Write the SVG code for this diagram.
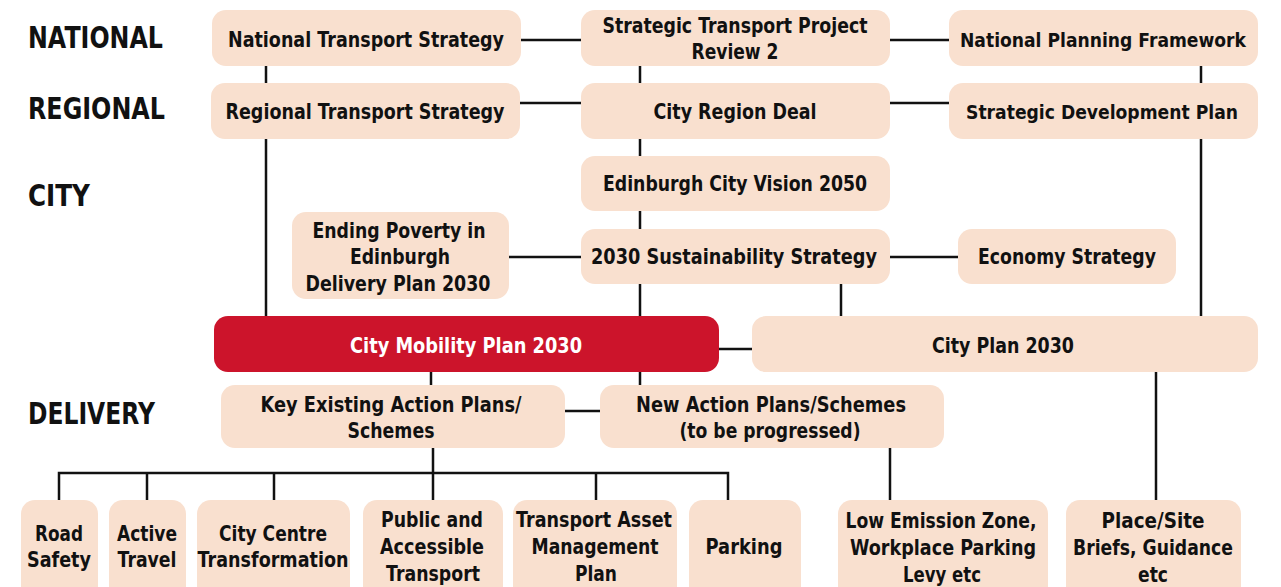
<svg xmlns="http://www.w3.org/2000/svg" width="1281" height="587" viewBox="0 0 1281 587">
  <defs>
    <style>
      .box { fill: #f9e0cf; }
      .key { fill: #cc142b; }
      .t { font-family: "DejaVu Sans", sans-serif; font-weight: bold; font-size: 21px; fill: #111; text-anchor: middle; }
      .s { font-size: 20px; }
      .xs { font-size: 19px; }
      .tw { fill: #fff; }
      .lvl { font-family: "DejaVu Sans", sans-serif; font-weight: bold; font-size: 31px; fill: #111; }
      .ln { stroke: #111; stroke-width: 2.5; fill: none; }
    </style>
  </defs>
  <rect width="1281" height="587" fill="#fff"/>

  <!-- level headings -->
  <g id="levels">
    <text class="lvl" x="28" y="48" textLength="135" lengthAdjust="spacingAndGlyphs">NATIONAL</text>
    <text class="lvl" x="28" y="119" textLength="137" lengthAdjust="spacingAndGlyphs">REGIONAL</text>
    <text class="lvl" x="28" y="206" textLength="62" lengthAdjust="spacingAndGlyphs">CITY</text>
    <text class="lvl" x="28" y="424" textLength="127" lengthAdjust="spacingAndGlyphs">DELIVERY</text>
  </g>

  <!-- connectors -->
  <g id="connectors" class="ln">
    <path d="M521 40H581M890 40H949"/>
    <path d="M520 103H581M890 103H949"/>
    <path d="M266 66V83M266 139V316"/>
    <path d="M640 66V83M640 139V156M640 211V229M640 284V316M640 372V385"/>
    <path d="M1201 66V83M1201 139V316"/>
    <path d="M509 257H581M890 257H958"/>
    <path d="M841 284V316"/>
    <path d="M719 349H752"/>
    <path d="M431 372V385"/>
    <path d="M565 411H600"/>
    <path d="M433 448V500M59 500V473H728V500M147 473V500M274 473V500M596 473V500"/>
    <path d="M890 448V500"/>
    <path d="M1156 372V500"/>
  </g>

  <g id="nts"><rect class="box" x="212" y="10" width="309" height="56" rx="14"/>
    <text class="t" x="366" y="47" textLength="276" lengthAdjust="spacingAndGlyphs">National Transport Strategy</text></g>
  <g id="stpr2"><rect class="box" x="581" y="10" width="309" height="56" rx="14"/>
    <text class="t" x="735" y="33" textLength="265" lengthAdjust="spacingAndGlyphs">Strategic Transport Project</text>
    <text class="t" x="735" y="59" textLength="87" lengthAdjust="spacingAndGlyphs">Review 2</text></g>
  <g id="npf"><rect class="box" x="949" y="10" width="309" height="56" rx="14"/>
    <text class="t xs" x="1103" y="47" textLength="286" lengthAdjust="spacingAndGlyphs">National Planning Framework</text></g>

  <g id="rts"><rect class="box" x="211" y="83" width="309" height="56" rx="14"/>
    <text class="t" x="365" y="119" textLength="279" lengthAdjust="spacingAndGlyphs">Regional Transport Strategy</text></g>
  <g id="crd"><rect class="box" x="581" y="83" width="309" height="56" rx="14"/>
    <text class="t" x="735" y="119" textLength="163" lengthAdjust="spacingAndGlyphs">City Region Deal</text></g>
  <g id="sdp"><rect class="box" x="949" y="83" width="309" height="56" rx="14"/>
    <text class="t s" x="1102" y="119" textLength="272" lengthAdjust="spacingAndGlyphs">Strategic Development Plan</text></g>

  <g id="vision"><rect class="box" x="581" y="156" width="309" height="55" rx="14"/>
    <text class="t" x="735" y="191" textLength="264" lengthAdjust="spacingAndGlyphs">Edinburgh City Vision 2050</text></g>

  <g id="poverty"><rect class="box" x="292" y="212" width="217" height="87" rx="14"/>
    <text class="t" x="399" y="238" textLength="173" lengthAdjust="spacingAndGlyphs">Ending Poverty in</text>
    <text class="t" x="400" y="264" textLength="100" lengthAdjust="spacingAndGlyphs">Edinburgh</text>
    <text class="t" x="398" y="291" textLength="185" lengthAdjust="spacingAndGlyphs">Delivery Plan 2030</text></g>
  <g id="sustain"><rect class="box" x="581" y="229" width="309" height="55" rx="14"/>
    <text class="t" x="734" y="264" textLength="286" lengthAdjust="spacingAndGlyphs">2030 Sustainability Strategy</text></g>
  <g id="economy"><rect class="box" x="958" y="229" width="218" height="55" rx="14"/>
    <text class="t" x="1067" y="264" textLength="178" lengthAdjust="spacingAndGlyphs">Economy Strategy</text></g>

  <g id="cmp"><rect class="key" x="214" y="316" width="505" height="56" rx="14"/>
    <text class="t tw" x="466" y="353" textLength="232" lengthAdjust="spacingAndGlyphs">City Mobility Plan 2030</text></g>
  <g id="cityplan"><rect class="box" x="752" y="316" width="506" height="56" rx="14"/>
    <text class="t" x="1003" y="353" textLength="142" lengthAdjust="spacingAndGlyphs">City Plan 2030</text></g>

  <g id="existing"><rect class="box" x="221" y="385" width="344" height="63" rx="14"/>
    <text class="t" x="391" y="412" textLength="261" lengthAdjust="spacingAndGlyphs">Key Existing Action Plans/</text>
    <text class="t" x="391" y="438" textLength="87" lengthAdjust="spacingAndGlyphs">Schemes</text></g>
  <g id="newplans"><rect class="box" x="600" y="385" width="344" height="63" rx="14"/>
    <text class="t" x="771" y="412" textLength="270" lengthAdjust="spacingAndGlyphs">New Action Plans/Schemes</text>
    <text class="t" x="770" y="438" textLength="181" lengthAdjust="spacingAndGlyphs">(to be progressed)</text></g>

  <g id="road"><rect class="box" x="21" y="500" width="77" height="100" rx="14"/>
    <text class="t" x="59" y="541" textLength="48" lengthAdjust="spacingAndGlyphs">Road</text>
    <text class="t" x="59" y="567" textLength="64" lengthAdjust="spacingAndGlyphs">Safety</text></g>
  <g id="active"><rect class="box" x="109" y="500" width="77" height="100" rx="14"/>
    <text class="t" x="147" y="541" textLength="60" lengthAdjust="spacingAndGlyphs">Active</text>
    <text class="t" x="147" y="567" textLength="59" lengthAdjust="spacingAndGlyphs">Travel</text></g>
  <g id="centre"><rect class="box" x="197" y="500" width="153" height="100" rx="14"/>
    <text class="t" x="273" y="541" textLength="108" lengthAdjust="spacingAndGlyphs">City Centre</text>
    <text class="t" x="273" y="567" textLength="151" lengthAdjust="spacingAndGlyphs">Transformation</text></g>
  <g id="public"><rect class="box" x="363" y="500" width="140" height="100" rx="14"/>
    <text class="t" x="432" y="527" textLength="102" lengthAdjust="spacingAndGlyphs">Public and</text>
    <text class="t" x="432" y="554" textLength="104" lengthAdjust="spacingAndGlyphs">Accessible</text>
    <text class="t" x="433" y="581" textLength="94" lengthAdjust="spacingAndGlyphs">Transport</text></g>
  <g id="tamp"><rect class="box" x="513" y="500" width="164" height="100" rx="14"/>
    <text class="t" x="594" y="527" textLength="156" lengthAdjust="spacingAndGlyphs">Transport Asset</text>
    <text class="t" x="595" y="554" textLength="127" lengthAdjust="spacingAndGlyphs">Management</text>
    <text class="t" x="596" y="581" textLength="42" lengthAdjust="spacingAndGlyphs">Plan</text></g>
  <g id="parking"><rect class="box" x="689" y="500" width="112" height="100" rx="14"/>
    <text class="t" x="744" y="554" textLength="77" lengthAdjust="spacingAndGlyphs">Parking</text></g>
  <g id="lez"><rect class="box" x="838" y="500" width="210" height="100" rx="14"/>
    <text class="t" x="941" y="528" textLength="191" lengthAdjust="spacingAndGlyphs">Low Emission Zone,</text>
    <text class="t" x="943" y="555" textLength="186" lengthAdjust="spacingAndGlyphs">Workplace Parking</text>
    <text class="t" x="942" y="582" textLength="78" lengthAdjust="spacingAndGlyphs">Levy etc</text></g>
  <g id="place"><rect class="box" x="1066" y="500" width="175" height="100" rx="14"/>
    <text class="t" x="1153" y="528" textLength="103" lengthAdjust="spacingAndGlyphs">Place/Site</text>
    <text class="t" x="1153" y="555" textLength="160" lengthAdjust="spacingAndGlyphs">Briefs, Guidance</text>
    <text class="t" x="1153" y="582" textLength="30" lengthAdjust="spacingAndGlyphs">etc</text></g>
</svg>
